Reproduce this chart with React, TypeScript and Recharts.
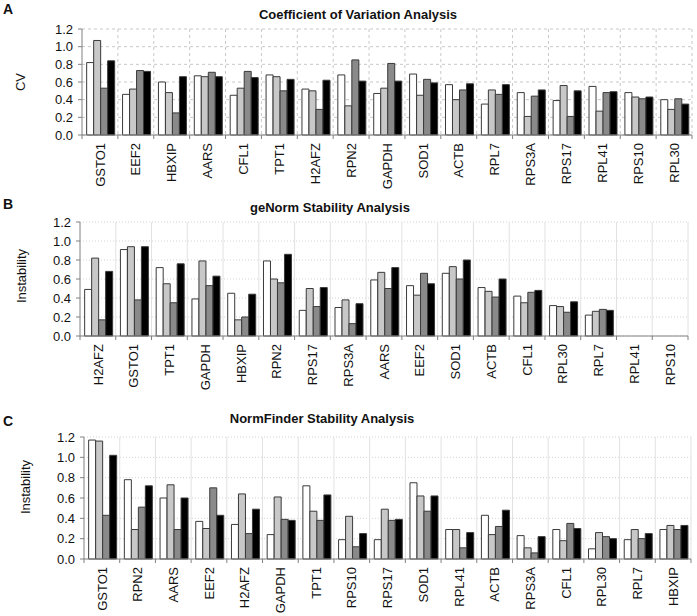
import { BarChart, Bar, XAxis, YAxis, CartesianGrid } from "recharts";

const FONT = '"Liberation Sans", Arial, sans-serif';
const W = 697;

// ---- data ----
const cvGenes = ["GSTO1", "EEF2", "HBXIP", "AARS", "CFL1", "TPT1", "H2AFZ", "RPN2", "GAPDH", "SOD1", "ACTB", "RPL7", "RPS3A", "RPS17", "RPL41", "RPS10", "RPL30"];
const cvS1 = [0.82, 0.46, 0.60, 0.67, 0.45, 0.68, 0.52, 0.68, 0.47, 0.69, 0.57, 0.35, 0.48, 0.39, 0.55, 0.48, 0.40];
const cvS2 = [1.07, 0.52, 0.48, 0.66, 0.53, 0.66, 0.50, 0.33, 0.53, 0.45, 0.40, 0.51, 0.21, 0.56, 0.27, 0.43, 0.29];
const cvS3 = [0.53, 0.73, 0.25, 0.71, 0.72, 0.50, 0.29, 0.85, 0.81, 0.63, 0.51, 0.46, 0.44, 0.21, 0.48, 0.41, 0.41];
const cvS4 = [0.84, 0.72, 0.66, 0.66, 0.65, 0.63, 0.62, 0.61, 0.61, 0.59, 0.58, 0.57, 0.51, 0.50, 0.49, 0.43, 0.35];

const gnGenes = ["H2AFZ", "GSTO1", "TPT1", "GAPDH", "HBXIP", "RPN2", "RPS17", "RPS3A", "AARS", "EEF2", "SOD1", "ACTB", "CFL1", "RPL30", "RPL7", "RPL41", "RPS10"];
const gnS1 = [0.49, 0.91, 0.72, 0.39, 0.45, 0.79, 0.27, 0.30, 0.59, 0.53, 0.66, 0.51, 0.42, 0.32, 0.22, null, null];
const gnS2 = [0.82, 0.94, 0.55, 0.79, 0.17, 0.60, 0.50, 0.38, 0.67, 0.43, 0.73, 0.47, 0.35, 0.31, 0.26, null, null];
const gnS3 = [0.17, 0.38, 0.35, 0.53, 0.20, 0.56, 0.31, 0.13, 0.50, 0.66, 0.60, 0.41, 0.46, 0.25, 0.28, null, null];
const gnS4 = [0.68, 0.94, 0.76, 0.63, 0.44, 0.86, 0.51, 0.34, 0.72, 0.55, 0.80, 0.60, 0.48, 0.36, 0.27, null, null];

const nfGenes = ["GSTO1", "RPN2", "AARS", "EEF2", "H2AFZ", "GAPDH", "TPT1", "RPS10", "RPS17", "SOD1", "RPL41", "ACTB", "RPS3A", "CFL1", "RPL30", "RPL7", "HBXIP"];
const nfS1 = [1.17, 0.78, 0.60, 0.37, 0.34, 0.24, 0.72, 0.19, 0.19, 0.75, 0.29, 0.43, 0.23, 0.29, 0.10, 0.19, 0.29];
const nfS2 = [1.16, 0.29, 0.73, 0.30, 0.64, 0.61, 0.47, 0.42, 0.49, 0.62, 0.29, 0.24, 0.11, 0.18, 0.26, 0.29, 0.33];
const nfS3 = [0.43, 0.51, 0.29, 0.70, 0.25, 0.39, 0.38, 0.12, 0.38, 0.47, 0.11, 0.32, 0.06, 0.35, 0.22, 0.20, 0.29];
const nfS4 = [1.02, 0.72, 0.60, 0.43, 0.49, 0.38, 0.63, 0.25, 0.39, 0.62, 0.26, 0.48, 0.22, 0.30, 0.20, 0.25, 0.33];

const yTicks = [0, 0.2, 0.4, 0.6, 0.8, 1.0, 1.2];
const fills = ["#ffffff", "#c8c8c8", "#8a8a8a", "#000000"];

const rows = (genes: string[], a: any[], b: any[], c: any[], d: any[]) =>
  genes.map((g, i) => ({ gene: g, s1: a[i], s2: b[i], s3: c[i], s4: d[i] }));

function GeneTick(props: any) {
  const { x, y, payload, index, bw, n } = props;
  const ty = y + 8;
  return (
    <g>
      <line x1={x - bw / 2} y1={y} x2={x - bw / 2} y2={y + 4} stroke="#808080" />
      {index === n - 1 && <line x1={x + bw / 2} y1={y} x2={x + bw / 2} y2={y + 4} stroke="#808080" />}
      <text
        x={x}
        y={ty}
        transform={`rotate(-90, ${x}, ${ty})`}
        textAnchor="end"
        dy="0.36em"
        fontSize={13}
        fontFamily={FONT}
        fill="#111"
      >
        {payload.value}
      </text>
    </g>
  );
}

interface PanelProps {
  top: number;
  height: number;
  plotTop: number;
  plotLeft: number;
  plotRight: number;
  plotBottom: number;
  data: any[];
  dashed: boolean;
}

function Panel({ top, height, plotTop, plotLeft, plotRight, plotBottom, data, dashed }: PanelProps) {
  const n = data.length;
  const bw = (plotRight - plotLeft) / n;
  const vPoints = data.map((_, i) => plotLeft + bw * (i + 1));
  return (
    <div style={{ position: "absolute", left: 0, top }}>
      <BarChart
        width={W}
        height={height}
        data={data}
        margin={{ top: plotTop, right: W - plotRight, left: 0, bottom: 0 }}
        barCategoryGap="13%"
        barGap={0}
      >
        {dashed ? (
          <CartesianGrid stroke="#c8c8c8" strokeDasharray="3 3" verticalPoints={vPoints} />
        ) : (
          <>
            <CartesianGrid stroke="#d4d4d4" strokeDasharray="1 2" vertical={false} />
            <CartesianGrid stroke="#e2e2e2" horizontal={false} verticalPoints={vPoints} />
          </>
        )}
        <XAxis
          dataKey="gene"
          type="category"
          interval={0}
          height={height - plotBottom}
          tickSize={0}
          tickMargin={0}
          tickLine={false}
          axisLine={{ stroke: "#808080" }}
          tick={<GeneTick bw={bw} n={n} />}
        />
        <YAxis
          type="number"
          domain={[0, 1.2]}
          ticks={yTicks}
          interval={0}
          width={plotLeft}
          tickSize={4}
          tickMargin={5}
          tickFormatter={(v: number) => v.toFixed(1)}
          axisLine={{ stroke: "#808080" }}
          tickLine={{ stroke: "#808080" }}
          tick={{ fill: "#111", fontSize: 13, fontFamily: FONT }}
        />
        {["s1", "s2", "s3", "s4"].map((k, i) => (
          <Bar key={k} dataKey={k} fill={fills[i]} stroke="#3a3a3a" strokeWidth={1} isAnimationActive={false} />
        ))}
      </BarChart>
    </div>
  );
}

const txt = (s: any) => ({ position: "absolute" as const, fontFamily: FONT, color: "#111", whiteSpace: "nowrap" as const, ...s });

export default function App() {
  return (
    <div style={{ position: "absolute", left: 0, top: 0, width: W, height: 616, background: "#fff", overflow: "hidden" }}>
      <Panel top={0} height={200} plotTop={29} plotLeft={82} plotRight={692} plotBottom={135}
        data={rows(cvGenes, cvS1, cvS2, cvS3, cvS4)} dashed />
      <Panel top={200} height={200} plotTop={22} plotLeft={80} plotRight={688} plotBottom={136}
        data={rows(gnGenes, gnS1, gnS2, gnS3, gnS4)} dashed={false} />
      <Panel top={400} height={216} plotTop={37} plotLeft={84} plotRight={691} plotBottom={159}
        data={rows(nfGenes, nfS1, nfS2, nfS3, nfS4)} dashed={false} />

      <div style={txt({ left: 3, top: 1, fontSize: 14, fontWeight: "bold" })}>A</div>
      <div style={txt({ left: 3, top: 196, fontSize: 14, fontWeight: "bold" })}>B</div>
      <div style={txt({ left: 3, top: 413, fontSize: 14, fontWeight: "bold" })}>C</div>

      <div style={txt({ left: 358, top: 7, fontSize: 13, fontWeight: "bold", transform: "translateX(-50%)" })}>Coefficient of Variation Analysis</div>
      <div style={txt({ left: 330, top: 200, fontSize: 13, fontWeight: "bold", transform: "translateX(-50%)" })}>geNorm Stability Analysis</div>
      <div style={txt({ left: 322, top: 411, fontSize: 13, fontWeight: "bold", transform: "translateX(-50%)" })}>NormFinder Stability Analysis</div>

      <div style={txt({ left: 20, top: 82, fontSize: 13, transform: "translate(-50%, -50%) rotate(-90deg)" })}>CV</div>
      <div style={txt({ left: 21, top: 276, fontSize: 13, transform: "translate(-50%, -50%) rotate(-90deg)" })}>Instability</div>
      <div style={txt({ left: 25, top: 487, fontSize: 13, transform: "translate(-50%, -50%) rotate(-90deg)" })}>Instability</div>
    </div>
  );
}
